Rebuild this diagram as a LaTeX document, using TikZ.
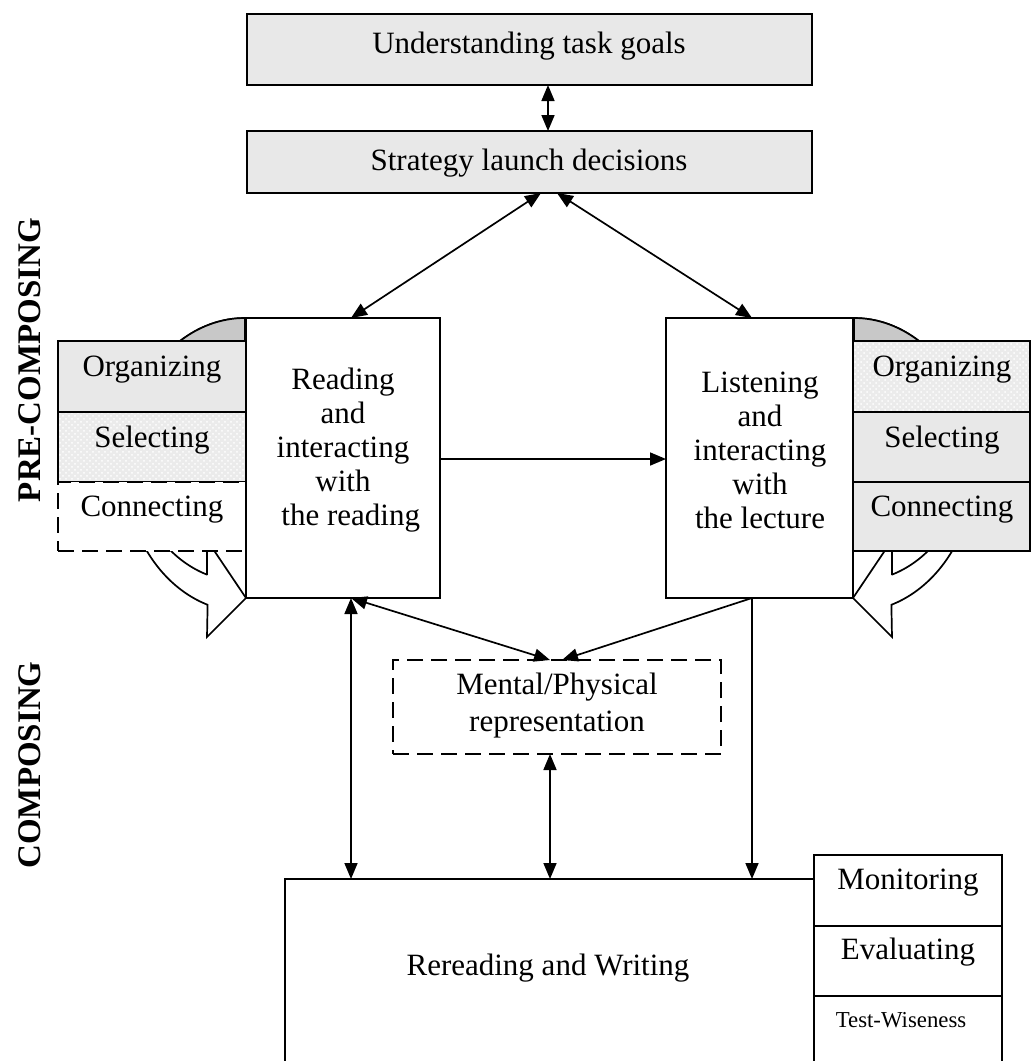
\documentclass[tikz,border=0pt]{standalone}
\usepackage{fontspec}
\setmainfont{Liberation Serif}
\usetikzlibrary{arrows.meta,fit,patterns}
\definecolor{boxgray}{HTML}{E8E8E8}
\definecolor{backgray}{HTML}{C8C8C8}

% outlines of the two curved arrows (pixel grid, y grows downwards)
\newcommand\leftcurve{plot[domain=90:252,samples=60,smooth] ({245+121*cos(\x)},{465-147*sin(\x)})
  -- (207,637) -- (246,598) -- (207,540) -- (207,575)
  -- plot[domain=249.6:90,samples=60,smooth] ({245+109*cos(\x)},{465-117*sin(\x)}) -- cycle}
\newcommand\rightcurve{plot[domain=90:252,samples=60,smooth] ({854-121*cos(\x)},{465-147*sin(\x)})
  -- (892,637) -- (853,598) -- (892,540) -- (892,575)
  -- plot[domain=249.6:90,samples=60,smooth] ({854-109*cos(\x)},{465-117*sin(\x)}) -- cycle}

\begin{document}
\begin{tikzpicture}[x=0.5pt,y=-0.5pt,
  frame/.style={draw=black,line width=0.85pt,inner sep=0pt,outer sep=0pt},
  whiteframe/.style={frame,fill=white},
  grayframe/.style={frame,fill=boxgray},
  dotframe/.style={frame,preaction={fill=gray!16},pattern=crosshatch dots,pattern color=white},
  dashframe/.style={frame,fill=white,dash pattern=on 8pt off 4pt},
  txt/.style={font=\fontsize{15.5}{17}\selectfont,align=center,inner sep=0pt},
  small/.style={font=\fontsize{11.4}{13}\selectfont,align=center,inner sep=0pt},
  side/.style={font=\fontsize{16.5}{18}\selectfont\bfseries,rotate=90,inner sep=0pt},
  arr/.style={line width=0.85pt,-{Triangle[length=8pt,width=6.5pt]}},
  darr/.style={line width=0.85pt,{Triangle[length=8pt,width=6.5pt]}-{Triangle[length=8pt,width=6.5pt]}}]

\useasboundingbox (0,0) rectangle (1031,1061);
\clip (0,0) rectangle (1031,1061);

% curved arrows behind the side boxes
\draw[frame,fill=white] \leftcurve;
\draw[frame,fill=white] \rightcurve;
\begin{scope}
  \clip (0,0) rectangle (1031,341);
  \draw[frame,fill=backgray] \leftcurve;
  \draw[frame,fill=backgray] \rightcurve;
\end{scope}

% side boxes, left
\node[grayframe,fit={(58,341) (246,412)}] (lorg) {};
\node[dotframe,fit={(58,412) (246,482)}] (lsel) {};
\node[dashframe,fit={(58,482) (246,551)}] (lcon) {};
% side boxes, right
\node[dotframe,fit={(853,341) (1030,412)}] (rorg) {};
\node[grayframe,fit={(853,412) (1030,482)}] (rsel) {};
\node[grayframe,fit={(853,482) (1030,551)}] (rcon) {};

% main boxes
\node[grayframe,fit={(247,14) (812,85)}] (goals) {};
\node[grayframe,fit={(247,131) (812,193)}] (launch) {};
\node[whiteframe,fit={(246,318) (440,598)}] (read) {};
\node[whiteframe,fit={(666,318) (853,598)}] (listen) {};
\node[dashframe,fit={(393,660) (721,754)}] (mental) {};
\node[whiteframe,fit={(285,879) (814,1080)}] (write) {};
\node[whiteframe,fit={(814,855) (1002,926)}] (mon) {};
\node[whiteframe,fit={(814,926) (1002,996)}] (eva) {};
\node[whiteframe,fit={(814,996) (1002,1080)}] (test) {};

% texts
\node[txt] (goalsT) at (529,46) {Understanding task goals};
\node[txt] (launchT) at (529,163) {Strategy launch decisions};
\node[txt] (readT) at (343,450) {Reading\\and\\interacting\\with\\\hspace{0.5em}the reading};
\node[txt] (listenT) at (760,450) {Listening\\and\\interacting\\with\\the lecture};
\node[txt] (lorgT) at (152,370) {Organizing};
\node[txt] (lselT) at (152,440) {Selecting};
\node[txt] (lconT) at (152,510) {Connecting};
\node[txt] (rorgT) at (942,370) {Organizing};
\node[txt] (rselT) at (942,440) {Selecting};
\node[txt] (rconT) at (942,510) {Connecting};
\node[txt,font=\fontsize{15.5}{18.5}\selectfont] (mentalT) at (557,706) {Mental/Physical\\representation};
\node[txt] (writeT) at (548,968) {Rereading and Writing};
\node[txt] (monT) at (908,883) {Monitoring};
\node[txt] (evaT) at (908,952) {Evaluating};
\node[small] (testT) at (901,1020) {Test-Wiseness};
\node[side] (preT) at (30,360) {PRE-COMPOSING};
\node[side] (compT) at (30,765) {COMPOSING};

% reference columns and rows for the connectors
\coordinate (xAxis) at (548,0);
\coordinate (xTopL) at (541,0);
\coordinate (xTopR) at (557,0);
\coordinate (xRead) at (351,0);
\coordinate (xListen) at (752,0);
\coordinate (xMidL) at (550,0);
\coordinate (xMidR) at (562,0);
\coordinate (yCross) at (0,459);

% connectors
\draw[darr] (goals.south -| xAxis) -- (launch.north -| xAxis);
\draw[darr] (launch.south -| xTopL) -- (read.north -| xRead);
\draw[darr] (launch.south -| xTopR) -- (listen.north -| xListen);
\draw[arr] (read.east |- yCross) -- (listen.west |- yCross);
\draw[darr] (read.south -| xRead) -- (mental.north -| xMidL);
\draw[arr] (listen.south -| xListen) -- (mental.north -| xMidR);
\draw[darr] (read.south -| xRead) -- (write.north -| xRead);
\draw[darr] (mental.south -| xMidL) -- (write.north -| xMidL);
\draw[arr] (listen.south -| xListen) -- (write.north -| xListen);

\end{tikzpicture}
\end{document}
